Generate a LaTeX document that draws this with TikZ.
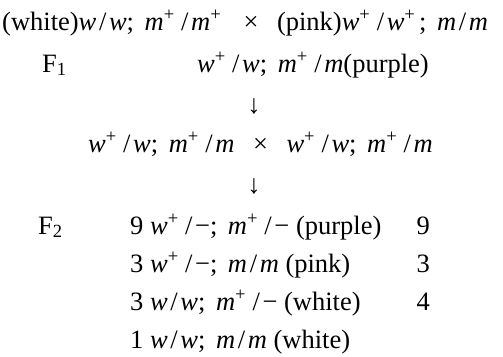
\documentclass[tikz,border=0pt]{standalone}
\usepackage{fontspec}
\setmainfont{Liberation Serif}
\newcommand{\gi}[1]{\textit{#1}}
\newcommand{\pl}{\textsuperscript{+}\kern0.14em}
\newcommand{\sla}{\kern0.1em/\kern0.1em}
\newcommand{\gap}{\hspace{0.4em}}
\newcommand{\crs}{\hspace{0.7em}\texttimes\hspace{0.7em}}
\begin{document}
\begin{tikzpicture}[x=1pt,y=1pt,
  txt/.style={inner sep=0pt, anchor=base west, font=\fontsize{26.5}{30}\selectfont},
  num/.style={inner sep=0pt, anchor=base east, font=\fontsize{26.5}{30}\selectfont},
  arr/.style={inner sep=0pt, anchor=base, font=\fontsize{26.5}{30}\selectfont}]
\useasboundingbox (0,0) rectangle (503,-356);
\node[txt] (p) at (2,-30) {(white)\gi{w}\sla\gi{w};\gap\gi{m}\pl\sla\gi{m}\pl\crs(pink)\gi{w}\pl\sla\gi{w}\pl;\gap\gi{m}\sla\gi{m}};
\node[txt] (f1) at (42,-72) {F\textsubscript{1}};
\node[txt] (f1g) at (197,-72) {\gi{w}\pl\sla\gi{w};\gap\gi{m}\pl\sla\gi{m}(purple)};
\node[arr] (a1) at (254,-113) {↓};
\node[txt] (x) at (88,-152) {\gi{w}\pl\sla\gi{w};\gap\gi{m}\pl\sla\gi{m}\crs\gi{w}\pl\sla\gi{w};\gap\gi{m}\pl\sla\gi{m}};
\node[arr] (a2) at (254,-193) {↓};
\node[txt] (f2) at (38,-234) {F\textsubscript{2}};
\node[txt] (g1) at (130,-234) {9 \gi{w}\pl\sla−;\gap\gi{m}\pl\sla− (purple)};
\node[txt] (g2) at (130,-272) {3 \gi{w}\pl\sla−;\gap\gi{m}\sla\gi{m} (pink)};
\node[txt] (g3) at (130,-310) {3 \gi{w}\sla\gi{w};\gap\gi{m}\pl\sla− (white)};
\node[txt] (g4) at (130,-348) {1 \gi{w}\sla\gi{w};\gap\gi{m}\sla\gi{m} (white)};
\node[num] (n1) at (430,-234) {9};
\node[num] (n2) at (430,-272) {3};
\node[num] (n3) at (430,-310) {4};
\end{tikzpicture}
\end{document}
